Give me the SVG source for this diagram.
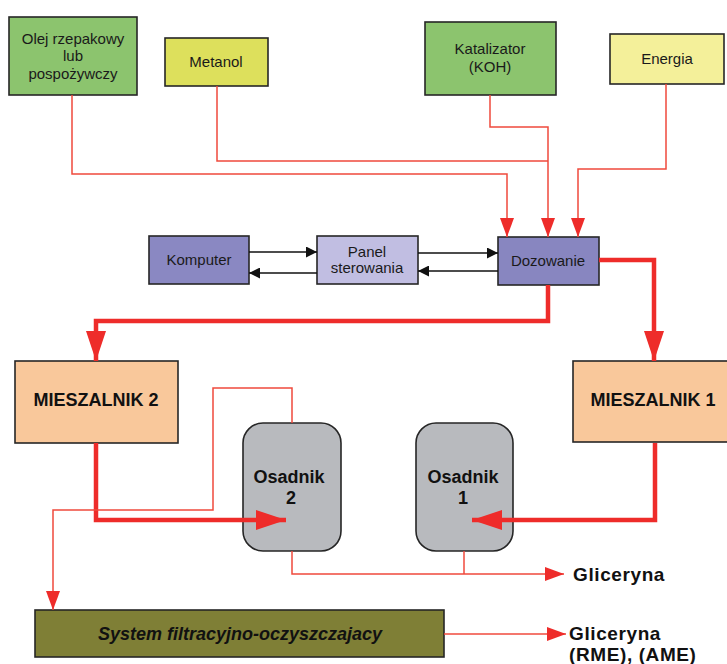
<svg xmlns="http://www.w3.org/2000/svg" width="727" height="664" viewBox="0 0 727 664">
  <style>
    .box { stroke: #262626; stroke-width: 1.6; }
    .lbl { font-family: "Liberation Sans", Arial, sans-serif; font-size: 15px; fill: #1a1a1a; text-anchor: middle; }
    .big { font-family: "Liberation Sans", Arial, sans-serif; font-size: 18px; font-weight: bold; fill: #111; text-anchor: middle; }
    .out { font-family: "Liberation Sans", Arial, sans-serif; font-size: 19px; font-weight: bold; fill: #111; letter-spacing: 0.6px; }
    .thin { fill: none; stroke: #f04a3c; stroke-width: 1.5; }
    .thick { fill: none; stroke: #ee2c2a; stroke-width: 4.5; }
    .ctl { fill: none; stroke: #111; stroke-width: 1.5; }
  </style>
  <defs>
    <marker id="arrThin" markerUnits="userSpaceOnUse" markerWidth="19" markerHeight="14" refX="19" refY="7" orient="auto">
      <path d="M0,0 L19,7 L0,14 z" fill="#ee2c2a"/>
    </marker>
    <marker id="arrThick" markerUnits="userSpaceOnUse" markerWidth="30" markerHeight="20" refX="30" refY="10" orient="auto">
      <path d="M0,0 L30,10 L0,20 z" fill="#ee2c2a"/>
    </marker>
    <marker id="arrBlack" markerUnits="userSpaceOnUse" markerWidth="11" markerHeight="11" refX="11" refY="5.5" orient="auto">
      <path d="M0,0 L11,5.5 L0,11 z" fill="#111"/>
    </marker>
  </defs>

  <rect width="727" height="664" fill="#ffffff"/>

  <g id="olej">
    <rect class="box" x="9" y="17" width="128" height="78" fill="#8cc46e"/>
    <text class="lbl" x="73" y="44">Olej rzepakowy</text>
    <text class="lbl" x="73" y="61">lub</text>
    <text class="lbl" x="73" y="79">pospożywczy</text>
  </g>
  <g id="metanol">
    <rect class="box" x="165" y="38" width="103" height="48" fill="#dde05c"/>
    <text class="lbl" x="216" y="67">Metanol</text>
  </g>
  <g id="katalizator">
    <rect class="box" x="425" y="22" width="131" height="73" fill="#8cc46e"/>
    <text class="lbl" x="490" y="54">Katalizator</text>
    <text class="lbl" x="490" y="72">(KOH)</text>
  </g>
  <g id="energia">
    <rect class="box" x="610" y="34" width="114" height="50" fill="#f4f09a"/>
    <text class="lbl" x="667" y="64">Energia</text>
  </g>

  <g id="komputer">
    <rect class="box" x="149" y="236" width="100" height="48" fill="#8a88c2"/>
    <text class="lbl" x="199" y="265">Komputer</text>
  </g>
  <g id="panel">
    <rect class="box" x="317" y="236" width="101" height="48" fill="#c1bee2"/>
    <text class="lbl" x="367" y="257">Panel</text>
    <text class="lbl" x="367" y="273">sterowania</text>
  </g>
  <g id="dozowanie">
    <rect class="box" x="498" y="237" width="101" height="48" fill="#8886c0"/>
    <text class="lbl" x="548" y="266">Dozowanie</text>
  </g>

  <g id="mieszalnik2">
    <rect class="box" x="15" y="361" width="163" height="82" fill="#f9c89b"/>
    <text class="big" x="96" y="406">MIESZALNIK 2</text>
  </g>
  <g id="mieszalnik1">
    <rect class="box" x="573" y="361" width="170" height="81" fill="#f9c89b"/>
    <text class="big" x="653" y="406">MIESZALNIK 1</text>
  </g>

  <g id="osadnik2">
    <rect class="box" x="243" y="423" width="98" height="128" rx="20" ry="20" fill="#b8babe"/>
    <text class="big" x="289" y="483">Osadnik</text>
    <text class="big" x="291" y="504">2</text>
  </g>
  <g id="osadnik1">
    <rect class="box" x="416" y="423" width="97" height="128" rx="20" ry="20" fill="#b8babe"/>
    <text class="big" x="463" y="483">Osadnik</text>
    <text class="big" x="463" y="504">1</text>
  </g>

  <g id="system">
    <rect class="box" x="35" y="610" width="409" height="47" fill="#7f7f36"/>
    <text class="big" x="240" y="640" font-style="italic" font-size="18.5">System filtracyjno-oczyszczajacy</text>
  </g>

  <g id="gliceryna">
    <text class="out" x="573" y="581">Gliceryna</text>
  </g>
  <g id="gliceryna-rme">
    <text class="out" x="569" y="640">Gliceryna</text>
    <text class="out" x="569" y="661">(RME), (AME)</text>
  </g>

  <!-- connectors, drawn last so the feed arrows sit on top of the settler tanks -->
  <g id="connectors">
    <!-- feeds into dosing unit -->
    <path class="thin" d="M72,95 V174 H507 V237" marker-end="url(#arrThin)"/>
    <path class="thin" d="M217,86 V161 H548"/>
    <path class="thin" d="M490,95 V127 H548 V237" marker-end="url(#arrThin)"/>
    <path class="thin" d="M666,84 V169 H578 V237" marker-end="url(#arrThin)"/>
    <!-- control links -->
    <path class="ctl" d="M249,252 H317" marker-end="url(#arrBlack)"/>
    <path class="ctl" d="M317,273 H249" marker-end="url(#arrBlack)"/>
    <path class="ctl" d="M418,253 H498" marker-end="url(#arrBlack)"/>
    <path class="ctl" d="M498,271 H418" marker-end="url(#arrBlack)"/>
    <!-- dosing to mixers -->
    <path class="thick" d="M548,285 V321 H96 V361" marker-end="url(#arrThick)"/>
    <path class="thick" d="M599,260 H654 V361" marker-end="url(#arrThick)"/>
    <!-- mixers to settlers -->
    <path class="thick" d="M96,443 V520 H286" marker-end="url(#arrThick)"/>
    <path class="thick" d="M655,443 V520 H472" marker-end="url(#arrThick)"/>
    <!-- settler 2 to filtration -->
    <path class="thin" d="M292,423 V388 H213 V510 H53 V610" marker-end="url(#arrThin)"/>
    <!-- glycerine outlets -->
    <path class="thin" d="M292,551 V574 H564" marker-end="url(#arrThin)"/>
    <path class="thin" d="M464,551 V574"/>
    <path class="thin" d="M444,634 H566" marker-end="url(#arrThin)"/>
  </g>
</svg>
